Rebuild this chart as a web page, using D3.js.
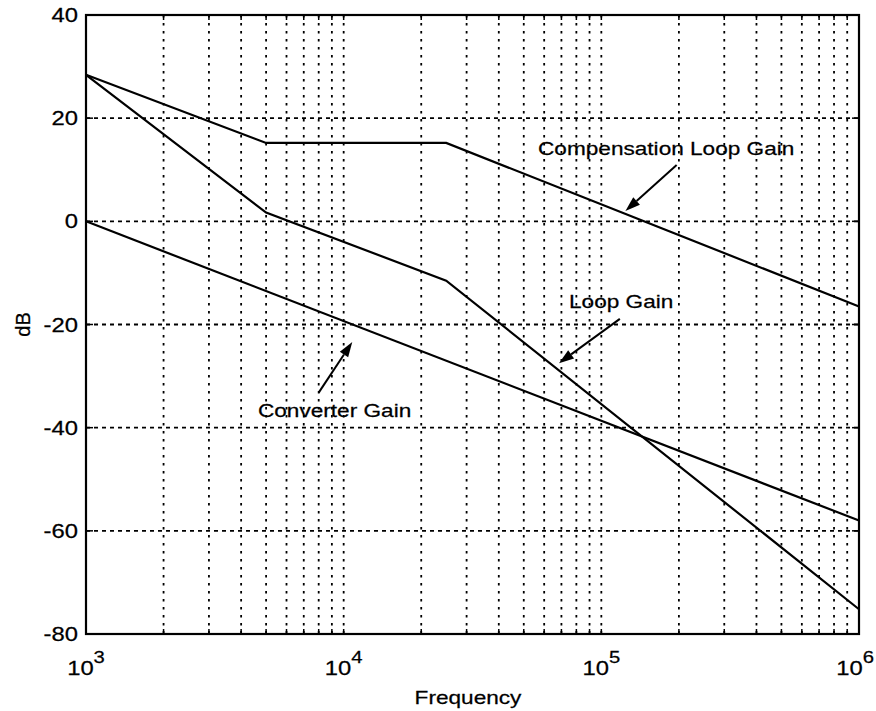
<!DOCTYPE html>
<html>
<head>
<meta charset="utf-8">
<title>Loop gain</title>
<script src="https://cdn.jsdelivr.net/npm/d3@7"></script>
<style>
  body { margin: 0; background: #fff; }
  svg { display: block; }
  text { font-family: "Liberation Sans", Arial, sans-serif; fill: #000; stroke: #000; stroke-width: 0.25; }
  .grid line { stroke: #000; stroke-width: 1.8; }
  .curve { fill: none; stroke: #000; stroke-width: 2.2; }
</style>
</head>
<body>
<div id="chart"></div>
<script>
// axis ticks
var freqTicks = [1e3, 1e4, 1e5, 1e6];
var freqExp = ["3", "4", "5", "6"];
var dbTicks = [40, 20, 0, -20, -40, -60, -80];

// series
var compFreq = [1e3, 5e3, 25e3, 1e6];
var compDb   = [28.4, 15.2, 15.2, -16.5];
var convFreq = [1e3, 1e6];
var convDb   = [0, -58];
var loopFreq = [1e3, 5e3, 25e3, 1e6];
var loopDb   = [28.4, 1.7, -11.5, -75.2];

// annotations, in data units: [text f, text dB, tail f, tail dB, tip f, tip dB]
var noteNames = ["Compensation Loop Gain", "Loop Gain", "Converter Gain"];
var notePos = [
  [56.8e3, 12.9, 196e3, 10.9, 124e3, 2.0],
  [74.9e3, -16.8, 118e3, -18.9, 68.5e3, -27.5],
  [4.65e3, -37.9, 8.0e3, -33.2, 10.8e3, -23.4]
];

var W = 876, H = 711;
var pLeft = 86, pRight = 859, pTop = 15, pBottom = 634;
var SX = 1.19; // scanned text is a bit wide

var svg = d3.select("#chart").append("svg")
  .attr("width", W).attr("height", H);

var x = d3.scaleLog().domain([1e3, 1e6]).range([pLeft, pRight]);
var y = d3.scaleLinear().domain([-80, 40]).range([pBottom, pTop]);

// minor + major frequency positions
var vGrid = [];
for (var e = 3; e < 6; e++) {
  for (var m = 1; m <= 9; m++) {
    var f = m * Math.pow(10, e);
    if (f > 1e3) vGrid.push(f);
  }
}

var grid = svg.append("g").attr("class", "grid");
grid.selectAll(".vg").data(vGrid).enter().append("line")
  .attr("x1", function(d){ return x(d); }).attr("x2", function(d){ return x(d); })
  .attr("y1", pTop).attr("y2", pBottom)
  .attr("stroke-dasharray", "2.5,5.5");
grid.selectAll(".hg").data(dbTicks.slice(1, -1)).enter().append("line")
  .attr("x1", pLeft).attr("x2", pRight)
  .attr("y1", function(d){ return y(d); }).attr("y2", function(d){ return y(d); })
  .attr("stroke-dasharray", "4,4");

// small inside ticks
var ticks = svg.append("g").attr("stroke", "#000").attr("stroke-width", 1.5);
vGrid.forEach(function(d){
  ticks.append("line").attr("x1", x(d)).attr("x2", x(d)).attr("y1", pBottom).attr("y2", pBottom - 5);
  ticks.append("line").attr("x1", x(d)).attr("x2", x(d)).attr("y1", pTop).attr("y2", pTop + 5);
});
dbTicks.forEach(function(d){
  ticks.append("line").attr("x1", pLeft).attr("x2", pLeft + 7).attr("y1", y(d)).attr("y2", y(d));
  ticks.append("line").attr("x1", pRight).attr("x2", pRight - 7).attr("y1", y(d)).attr("y2", y(d));
});

// curves
var line = d3.line().x(function(d){ return x(d[0]); }).y(function(d){ return y(d[1]); });
var series = [d3.zip(compFreq, compDb), d3.zip(convFreq, convDb), d3.zip(loopFreq, loopDb)];
svg.selectAll(".curve").data(series).enter().append("path")
  .attr("class", "curve").attr("d", line);

// frame
svg.append("rect")
  .attr("x", pLeft).attr("y", pTop)
  .attr("width", pRight - pLeft).attr("height", pBottom - pTop)
  .attr("fill", "none").attr("stroke", "#000").attr("stroke-width", 2.2);

function label(px, py, str, anchor, size) {
  return svg.append("text")
    .attr("transform", "translate(" + px + "," + py + ") scale(" + SX + ",1)")
    .attr("text-anchor", anchor)
    .style("font-size", size + "px")
    .text(str);
}

// y tick labels
dbTicks.forEach(function(d){
  label(78, y(d) + 7, d, "end", 20);
});

// x tick labels 10^n (last one kept inside the page edge)
freqTicks.forEach(function(d, i){
  var last = i === freqTicks.length - 1;
  var t = svg.append("text")
    .attr("transform", "translate(" + (last ? W - 2 : x(d)) + ",675) scale(" + SX + ",1)")
    .attr("text-anchor", last ? "end" : "middle")
    .style("font-size", "20px");
  t.append("tspan").text("10");
  t.append("tspan").attr("dy", -12).style("font-size", "17px").text(freqExp[i]);
});

// axis titles
label(468, 704, "Frequency", "middle", 19);
svg.append("text")
  .attr("transform", "translate(30," + ((pTop + pBottom) / 2) + ") rotate(-90)")
  .attr("text-anchor", "middle")
  .style("font-size", "20px")
  .text("dB");

// annotations with arrows
notePos.forEach(function(p, i){
  label(x(p[0]), y(p[1]), noteNames[i], "start", 19);
  var x1 = x(p[2]), y1 = y(p[3]), x2 = x(p[4]), y2 = y(p[5]);
  var a = Math.atan2(y2 - y1, x2 - x1);
  var len = 15, half = 5;
  var bx = x2 - len * Math.cos(a), by = y2 - len * Math.sin(a);
  svg.append("line")
    .attr("x1", x1).attr("y1", y1).attr("x2", bx).attr("y2", by)
    .attr("stroke", "#000").attr("stroke-width", 2);
  svg.append("path")
    .attr("d", "M" + x2 + "," + y2 +
      "L" + (bx + half * Math.sin(a)) + "," + (by - half * Math.cos(a)) +
      "L" + (bx - half * Math.sin(a)) + "," + (by + half * Math.cos(a)) + "Z")
    .attr("fill", "#000");
});
</script>
</body>
</html>
